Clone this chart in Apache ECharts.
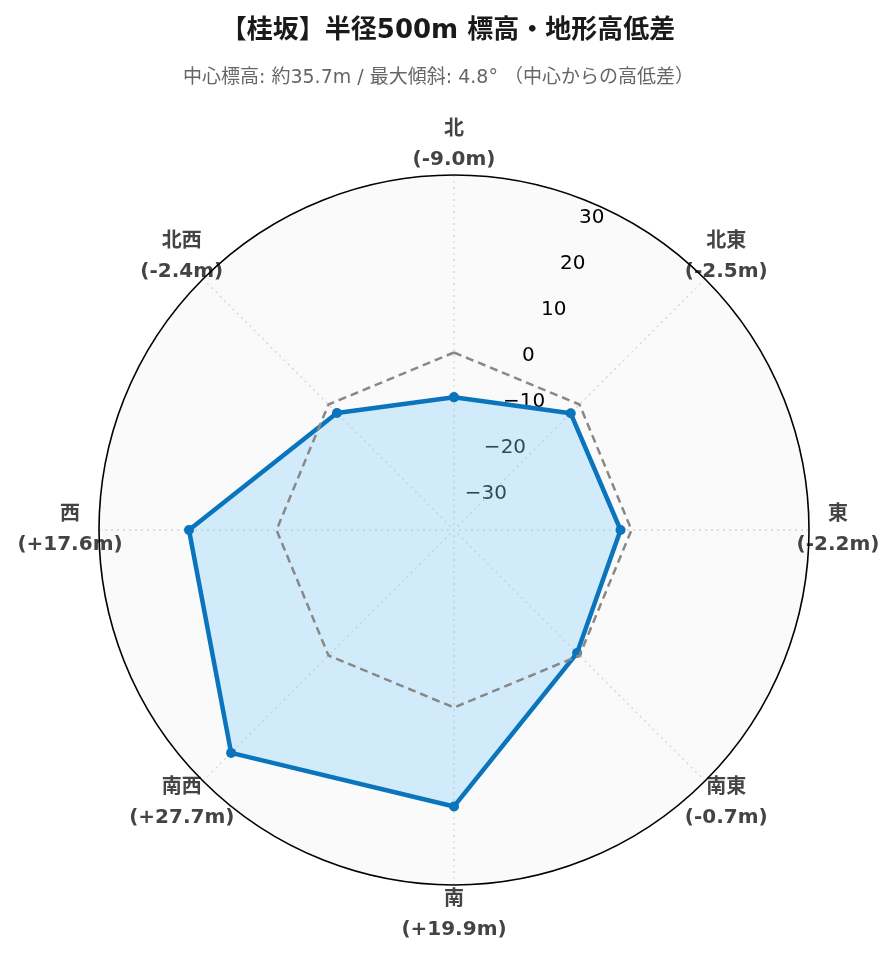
<!DOCTYPE html>
<html><head><meta charset="utf-8">
<script src="https://cdn.jsdelivr.net/npm/echarts@6/dist/echarts.min.js"></script>
<style>html,body{margin:0;padding:0;background:#fff}#c{width:896px;height:962px}</style>
</head><body><div id="c"></div>
<script>
const directions = ['北', '北東', '東', '南東', '南', '南西', '西', '北西'];
const directionAngles = [0, 45, 90, 135, 180, 225, 270, 315];
const elevationDiff = [-9.0, -2.5, -2.2, -0.7, 19.9, 27.7, 17.6, -2.4];
const referenceLevel = [0, 0, 0, 0, 0, 0, 0, 0];
const radialTicks = [-30, -20, -10, 0, 10, 20, 30];
const radialMin = -35.7;
const radialMax = 35.7;
const titleText = '【桂坂】半径500m 標高・地形高低差';
const subtitleText = '中心標高: 約35.7m / 最大傾斜: 4.8° （中心からの高低差）';

const latin = '"DejaVu Sans", "Noto Sans CJK JP", sans-serif';

function fmtDiff(v) { return (v > 0 ? '+' : '') + v.toFixed(1) + 'm'; }
function closedLoop(arr) {
  const pts = arr.map((v, i) => [v, directionAngles[i]]);
  pts.push([arr[0], 360]);
  return pts;
}

const lblBase = {align: 'center', lineHeight: 30, fontSize: 20, fontWeight: 'bold', color: '#444', fontFamily: latin};

function angleLabel(val) {
  const idx = directionAngles.indexOf(Math.round(val));
  if (idx < 0) return '';
  const name = directions[idx];
  const sub = '(' + fmtDiff(elevationDiff[idx]) + ')';
  if (idx === 0 || idx === 4) return '{sp40| }\n{ns|' + name + '}\n{ns|' + sub + '}\n{sp40| }';
  if (idx === 2 || idx === 6) return '{ew|' + name + '}\n{ew|' + sub + '}';
  return '{sp20| }\n{dg|' + name + '}\n{dg|' + sub + '}\n{sp20| }';
}

const chart = echarts.init(document.getElementById('c'), null, {renderer: 'canvas'});
chart.setOption({
  backgroundColor: '#ffffff',
  animation: false,
  title: [
    {text: titleText, left: 'center', top: 13,
     textStyle: {fontFamily: latin, fontSize: 26, fontWeight: 'bold', color: '#1a1a1a'}},
    {text: subtitleText, left: 178, top: 64,
     textStyle: {fontFamily: latin, fontSize: 19, fontWeight: 'normal', color: '#666'}}
  ],
  polar: [
    {center: [454, 530], radius: 355},
    {center: [454, 530], radius: 355}
  ],
  angleAxis: [
    {
      polarIndex: 0, type: 'value', min: 0, max: 360, interval: 45,
      startAngle: 90, clockwise: true, z: 3,
      axisLine: {show: true, lineStyle: {color: '#000', width: 1.6}},
      axisTick: {show: false},
      axisLabel: {
        margin: -40,
        formatter: angleLabel,
        rich: {
          ns: Object.assign({width: 140}, lblBase),
          ew: Object.assign({width: 138}, lblBase),
          dg: Object.assign({width: 99}, lblBase),
          sp40: {lineHeight: 40, fontSize: 1},
          sp20: {lineHeight: 20, fontSize: 1}
        }
      },
      splitLine: {show: true, lineStyle: {color: '#d4d4d4', width: 1.3, type: [2, 4]}}
    },
    {
      polarIndex: 1, type: 'value', min: 0, max: 360, startAngle: 67.5, clockwise: true,
      show: false
    }
  ],
  radiusAxis: [
    {
      polarIndex: 0, type: 'value', min: radialMin, max: radialMax,
      axisLine: {show: false}, axisTick: {show: false}, axisLabel: {show: false},
      splitLine: {show: true, lineStyle: {color: '#d4d4d4', width: 1.3, type: [2, 4]}},
      splitArea: {show: true, areaStyle: {color: ['#fafafa']}}
    },
    {
      polarIndex: 1, type: 'value', min: radialMin, max: radialMax, z: 4,
      axisLine: {show: false}, axisTick: {show: false}, splitLine: {show: false},
      axisLabel: {
        margin: 0, align: 'left', verticalAlign: 'bottom', rotate: 0,
        fontFamily: latin, fontSize: 20, color: '#000',
        formatter: (v) => radialTicks.includes(Math.round(v * 1000) / 1000) ? String(v).replace('-', '\u2212') : ''
      }
    }
  ],
  series: [
    {
      type: 'line', coordinateSystem: 'polar', polarIndex: 0, z: 5,
      data: closedLoop(elevationDiff),
      symbol: 'circle', symbolSize: 10, showAllSymbol: true,
      itemStyle: {color: '#0a74bc'},
      lineStyle: {color: '#0a74bc', width: 4.5},
      areaStyle: {origin: 'start', color: 'rgba(135,206,250,0.35)', opacity: 1}
    },
    {
      type: 'line', coordinateSystem: 'polar', polarIndex: 0, z: 6,
      data: closedLoop(referenceLevel),
      symbol: 'none',
      lineStyle: {color: '#888', width: 2.5, type: [8, 5]}
    }
  ]
});
</script></body></html>
